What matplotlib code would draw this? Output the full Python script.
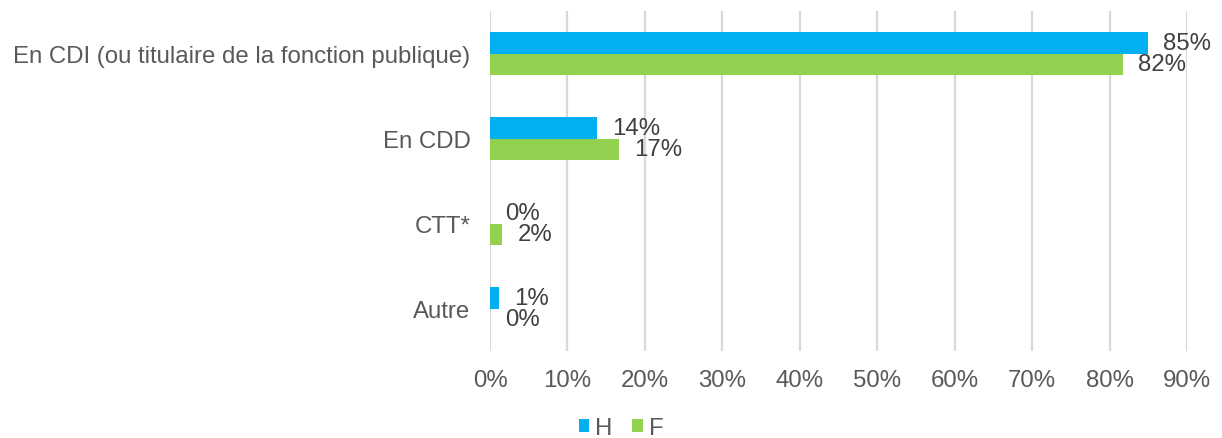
import matplotlib
matplotlib.use("Agg")
import matplotlib.pyplot as plt
import numpy as np
from matplotlib.ticker import FuncFormatter

plt.rcParams['font.family'] = ['Liberation Sans', 'DejaVu Sans']

categories = ["En CDI (ou titulaire de la fonction publique)", "En CDD", "CTT*", "Autre"]
h_values = [84.9, 13.8, 0.0, 1.2]
f_values = [81.7, 16.7, 1.6, 0.0]
series_names = ["H", "F"]
colors = ["#00B0F0", "#92D050"]

FS = 17.3

fig = plt.figure(figsize=(12.22, 4.39), dpi=100)
ax = fig.add_axes([490/1222, 1-352/439, (1187-490)/1222, (352-12)/439])

y = np.arange(len(categories))
bh = 0.25
hb = ax.barh(y - bh/2, [v/100 for v in h_values], height=bh, color=colors[0], label=series_names[0], zorder=3)
fb = ax.barh(y + bh/2, [v/100 for v in f_values], height=bh, color=colors[1], label=series_names[1], zorder=3)

for bars, vals in ((hb, h_values), (fb, f_values)):
    for b, v in zip(bars, vals):
        ax.annotate(f"{round(v):d}%", (b.get_width(), b.get_y() + b.get_height()/2),
                    xytext=(11, 0), textcoords="offset points", va="center", ha="left",
                    fontsize=FS, color="#404040")

ax.set_xlim(0, 0.9)
ax.set_ylim(len(categories) - 0.5, -0.5)
ax.set_xticks(np.arange(0, 0.91, 0.1))
ax.xaxis.set_major_formatter(FuncFormatter(lambda x, p: f"{x*100:.0f}%"))
ax.set_yticks(y)
ax.set_yticklabels(categories)
ax.tick_params(axis='both', length=0, labelsize=FS, labelcolor="#595959")
ax.tick_params(axis='y', pad=14)
ax.tick_params(axis='x', pad=13)
ax.grid(axis='x', color="#d9d9d9", linewidth=1.6, zorder=0)
for s in ax.spines.values():
    s.set_visible(False)

fig.legend(handles=[hb, fb], labels=series_names, loc="center", bbox_to_anchor=(621/1222, 1-429/439),
           ncol=2, frameon=False, fontsize=FS, labelcolor="#595959",
           handlelength=0.45, handleheight=0.45, handletextpad=0.25, columnspacing=0.8)

fig.savefig("out.png", dpi=100)
